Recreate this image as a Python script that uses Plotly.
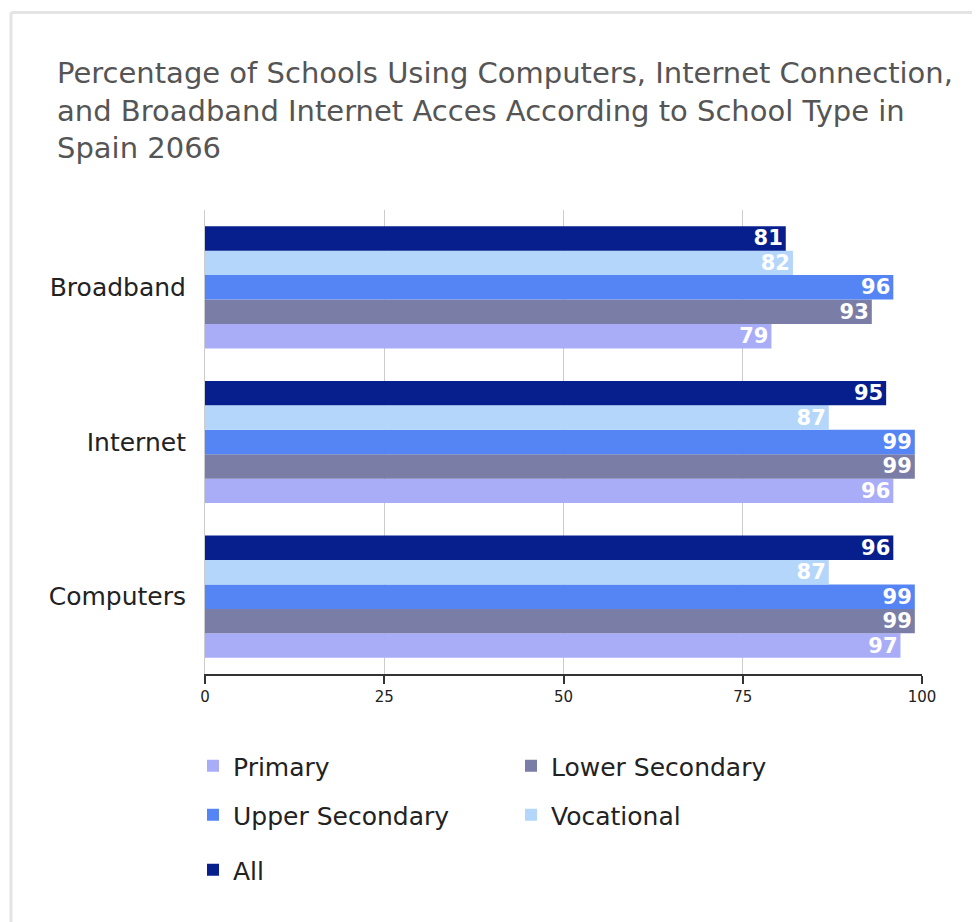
import plotly.graph_objects as go

categories = ["Computers", "Internet", "Broadband"]
series_names = ["Primary", "Lower Secondary", "Upper Secondary", "Vocational", "All"]
primary = [97, 96, 79]
lower_secondary = [99, 99, 93]
upper_secondary = [99, 99, 96]
vocational = [87, 87, 82]
all_schools = [96, 95, 81]
x_ticks = [0, 25, 50, 75, 100]

colors = ["#a9adf8", "#7a7ea6", "#5585f5", "#b4d6fa", "#061f8c"]
legend_ids = ["legend", "legend", "legend2", "legend2", "legend3"]
values = [primary, lower_secondary, upper_secondary, vocational, all_schools]

FONT = "DejaVu Sans"
OFF = 8  # page body margin

fig = go.Figure()
for name, vals, col, lg in zip(series_names, values, colors, legend_ids):
    fig.add_trace(go.Bar(
        y=categories, x=vals, name=name, orientation="h",
        marker=dict(color=col, line=dict(width=0)),
        text=vals, texttemplate="%{x}", textposition="inside",
        insidetextanchor="end", textangle=0, constraintext="none",
        insidetextfont=dict(family=FONT, size=21, color="white", weight="bold"),
        legend=lg, cliponaxis=False,
    ))

W, H = 980, 922
# desired on-screen plot box: x 205..922, y 210..674
L = 205 - OFF
T = 210 - OFF
R = W - (922 - OFF)
B = H - (674 - OFF)
pw, ph = W - L - R, H - T - B

def px(xs):
    return (xs - OFF - L) / pw

def py(ys):
    return (H - B - (ys - OFF)) / ph

legend_common = dict(orientation="h", entrywidth=273, entrywidthmode="pixels",
                     font=dict(family=FONT, size=25, color="#222222"),
                     xanchor="left", yanchor="middle", bgcolor="rgba(0,0,0,0)",
                     itemclick=False, traceorder="normal")

fig.update_layout(
    width=W, height=H,
    margin=dict(l=L, r=R, t=T, b=B),
    paper_bgcolor="white", plot_bgcolor="white",
    barmode="group", bargap=0.21, bargroupgap=0,
    title=dict(
        text="Percentage of Schools Using Computers, Internet Connection,<br>"
             "and Broadband Internet Acces According to School Type in<br>Spain 2066",
        x=(57 - OFF) / W, xanchor="left", xref="container",
        y=1 - 75 / H, yanchor="top", yref="container",
        font=dict(family=FONT, size=29, color="#555555"),
    ),
    xaxis=dict(range=[0, 100], tickvals=x_ticks, ticktext=[str(v) for v in x_ticks],
               showgrid=True, gridcolor="#cccccc", gridwidth=1, zeroline=False,
               showline=True, linecolor="#333333", linewidth=2,
               ticks="outside", ticklen=8, tickcolor="#333333", tickwidth=2,
               tickfont=dict(family=FONT, size=15, color="#222222"), fixedrange=True),
    yaxis=dict(categoryorder="array", categoryarray=categories,
               showgrid=False, zeroline=False, showline=True, linecolor="#cccccc",
               linewidth=1, layer="below traces", ticks="",
               ticklabelstandoff=13,
               tickfont=dict(family=FONT, size=25, color="#222222"), fixedrange=True),
    legend=dict(x=px(193), y=py(766), **legend_common),
    legend2=dict(x=px(193), y=py(815), **legend_common),
    legend3=dict(x=px(193), y=py(870), **legend_common),
    showlegend=True,
    shapes=[
        dict(type="line", xref="paper", yref="paper", x0=px(11), x1=px(1000),
             y0=py(12.5), y1=py(12.5), line=dict(color="#e4e4e4", width=3)),
        dict(type="line", xref="paper", yref="paper", x0=px(11), x1=px(11),
             y0=py(12.5), y1=py(940), line=dict(color="#e4e4e4", width=3)),
    ],
)

fig.write_html("out.html")
